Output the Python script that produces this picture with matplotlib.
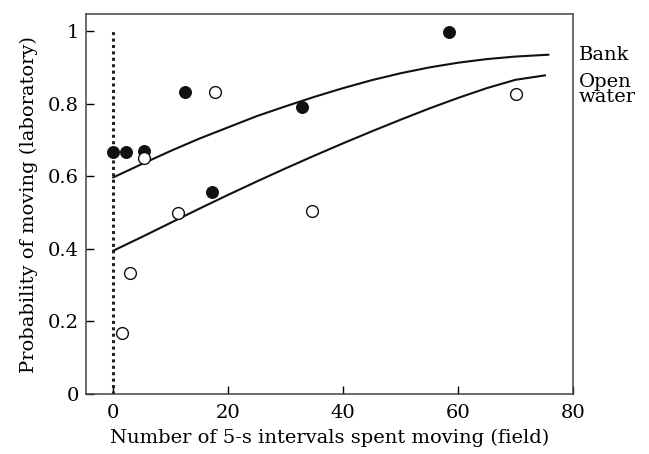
import matplotlib
matplotlib.use("Agg")
import matplotlib.pyplot as plt

plt.rcParams["font.family"] = ["DejaVu Serif"]

# Observed points
bank_x = [0, 2.2, 5.4, 12.4, 17.1, 32.8, 58.4]
bank_y = [0.667, 0.667, 0.67, 0.831, 0.556, 0.791, 0.997]
open_x = [1.45, 2.95, 5.3, 11.25, 17.7, 34.6, 70.1]
open_y = [0.167, 0.334, 0.651, 0.50, 0.831, 0.504, 0.828]

# Fitted curves
bank_fit_x = [0, 5, 10, 15, 20, 25, 30, 35, 40, 45, 50, 55, 60, 65, 70, 75.7]
bank_fit_y = [0.597, 0.634, 0.670, 0.704, 0.735, 0.766, 0.793, 0.819, 0.843, 0.865, 0.884, 0.900,
              0.913, 0.923, 0.930, 0.935]
open_fit_x = [0, 5, 10, 15, 20, 25, 30, 35, 40, 45, 50, 55, 60, 65, 70, 75.1]
open_fit_y = [0.395, 0.433, 0.472, 0.511, 0.549, 0.586, 0.622, 0.657, 0.691, 0.724, 0.756, 0.787,
              0.816, 0.843, 0.866, 0.878]

xticks = [0, 20, 40, 60, 80]
yticks = [0, 0.2, 0.4, 0.6, 0.8, 1.0]
ytick_labels = ["0", "0.2", "0.4", "0.6", "0.8", "1"]

fig = plt.figure(figsize=(6.49, 4.54), dpi=100)
ax = fig.add_axes([0.132, 0.132, 0.751, 0.837])

ax.plot([0, 0], [0, 1], color="#222222", linestyle=(0, (1, 1.1)), linewidth=2.2)
ax.plot(bank_fit_x, bank_fit_y, color="#111111", linewidth=1.5)
ax.plot(open_fit_x, open_fit_y, color="#111111", linewidth=1.5)
ax.plot(bank_x, bank_y, "o", color="#111111", markersize=8.5, markeredgewidth=0.8, zorder=3)
ax.plot(open_x, open_y, "o", markerfacecolor="white", markeredgecolor="#111111",
        markersize=8.5, markeredgewidth=1.0, zorder=3)

ax.set_xlim(-4.8, 80)
ax.set_ylim(0, 1.047)
ax.set_xticks(xticks)
ax.set_yticks(yticks)
ax.set_yticklabels(ytick_labels)
ax.tick_params(direction="in", length=6, width=1, labelsize=14, top=False, right=False)
ax.tick_params(axis="x", pad=7)
ax.tick_params(axis="y", pad=5)
for side in ax.spines.values():
    side.set_linewidth(1.1)
    side.set_color("#444444")

ax.set_xlabel("Number of 5-s intervals spent moving (field)", fontsize=14, labelpad=5)
ax.set_ylabel("Probability of moving (laboratory)", fontsize=14, labelpad=7)

ax.text(81.0, 0.934, "Bank", fontsize=14, ha="left", va="center", clip_on=False)
ax.text(81.0, 0.84, "Open\nwater", fontsize=14, ha="left", va="center",
        linespacing=0.8, clip_on=False)

fig.savefig("out.png", dpi=100)
